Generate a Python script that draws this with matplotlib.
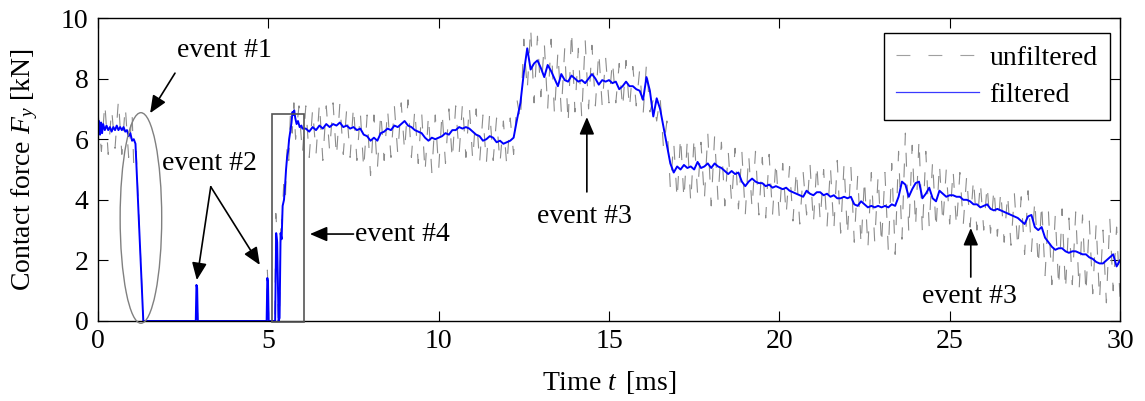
import numpy as np
import matplotlib
matplotlib.use("Agg")
import matplotlib.pyplot as plt
from matplotlib.patches import Ellipse, Rectangle

plt.rcParams['font.family'] = ['Liberation Serif', 'DejaVu Serif']
plt.rcParams['mathtext.fontset'] = 'custom'
plt.rcParams['mathtext.rm'] = 'Liberation Serif'
plt.rcParams['mathtext.it'] = 'Liberation Serif:italic'
plt.rcParams['lines.scale_dashes'] = False

# ---------------- data (time in ms, force in kN) ----------------
early_t_filt = [0.00, 0.03, 0.06, 0.09, 0.12, 0.15, 0.20, 0.25, 0.30, 0.35, 0.40, 0.45, 0.50,
                0.55, 0.60, 0.65, 0.70, 0.75, 0.80, 0.85, 0.90, 0.95, 1.00, 1.05, 1.10, 1.33,
                2.87, 2.89, 2.91, 2.93, 4.95, 4.97, 4.99, 5.01, 5.20, 5.23, 5.26, 5.30, 5.33,
                5.36, 5.39, 5.42, 5.46, 5.49, 5.52, 5.55, 5.58, 5.61, 5.65, 5.68, 5.71, 5.73,
                5.76, 5.79, 5.83, 5.87, 5.92, 5.97, 6.00]
early_f_filt = [6.35, 6.60, 6.15, 6.55, 6.20, 6.50, 6.30, 6.45, 6.30, 6.40, 6.25, 6.40, 6.30,
                6.45, 6.30, 6.40, 6.30, 6.40, 6.25, 6.30, 6.10, 6.20, 5.95, 6.00, 5.85, 0.00,
                0.00, 1.19, 1.10, 0.00, 0.00, 1.42, 1.30, 0.00, 0.00, 2.90, 2.60, 0.00, 0.10,
                2.90, 2.70, 3.80, 4.00, 4.45, 5.00, 5.40, 5.60, 6.00, 6.30, 6.55, 6.90, 6.80,
                6.95, 6.70, 6.50, 6.60, 6.40, 6.45, 6.35]

early_t_unf = [0.0, 0.1, 0.2, 0.3, 0.4, 0.5, 0.6, 0.7, 0.8, 0.9, 1.0, 1.05, 1.12, 1.33,
               2.87, 2.89, 2.91, 2.93, 4.95, 4.97, 4.99, 5.01, 5.19, 5.22, 5.25, 5.29,
               5.33, 5.37, 5.40, 5.45, 5.50, 5.55, 5.60, 5.65, 5.70, 5.75, 5.80, 5.90, 6.00]
early_f_unf = [6.9, 5.6, 7.2, 5.5, 7.0, 5.7, 7.3, 5.5, 7.1, 5.4, 6.9, 5.1, 5.6, 0.0,
               0.0, 1.2, 1.0, 0.0, 0.0, 1.68, 1.2, 0.0, 0.0, 3.55, 3.0, 0.0,
               0.2, 3.5, 3.2, 4.5, 4.0, 5.8, 5.3, 6.9, 6.2, 7.2, 6.0, 7.1, 5.5]

# sampled part: 6.1 ms ... 30.0 ms every 0.1 ms
grid_t = np.round(np.arange(61, 301) / 10.0, 1)

filt_grid = [
    6.35, 6.25, 6.40, 6.30, 6.45, 6.35, 6.50, 6.40, 6.50, 6.45,
    6.55, 6.40, 6.45, 6.35, 6.40, 6.30, 6.35, 6.15, 6.10, 5.95,
    6.05, 5.95, 6.20, 6.25, 6.35, 6.30, 6.45, 6.40, 6.50, 6.60,
    6.45, 6.40, 6.30, 6.25, 6.20, 6.05, 5.95, 6.05, 6.00, 6.05,
    6.10, 6.20, 6.15, 6.30, 6.30, 6.40, 6.35, 6.40, 6.35, 6.25,
    6.15, 6.10, 5.95, 6.00, 6.10, 6.05, 5.90, 5.95, 5.85, 5.90,
    5.95, 6.05, 6.65, 7.20, 8.20, 9.00, 8.30, 8.50, 8.60, 8.35,
    8.05, 8.45, 8.25, 8.00, 7.75, 8.15, 7.95, 7.90, 8.10, 8.00,
    7.90, 7.95, 7.85, 8.00, 8.15, 8.00, 7.80, 7.95, 7.90, 7.95,
    7.85, 7.90, 7.65, 7.75, 7.90, 7.75, 7.75, 7.65, 7.60, 7.30,
    8.05, 7.60, 6.75, 7.35, 7.00, 6.40, 5.80, 5.20, 4.90, 5.10,
    5.00, 5.15, 5.05, 5.10, 5.00, 5.25, 5.05, 5.10, 5.20, 5.05,
    5.20, 5.10, 5.05, 4.95, 4.85, 4.95, 4.85, 4.90, 4.60, 4.45,
    4.60, 4.70, 4.60, 4.55, 4.55, 4.45, 4.50, 4.40, 4.45, 4.40,
    4.35, 4.40, 4.30, 4.25, 4.20, 4.15, 4.10, 4.30, 4.20, 4.15,
    4.25, 4.25, 4.15, 4.20, 4.10, 4.15, 4.05, 4.05, 4.10, 4.05,
    4.10, 3.85, 3.80, 3.95, 3.85, 3.75, 3.80, 3.75, 3.80, 3.75,
    3.80, 3.75, 3.85, 3.80, 4.10, 4.60, 4.50, 4.10, 4.35, 4.55,
    4.60, 4.05, 4.20, 4.40, 4.05, 3.95, 4.30, 4.20, 4.10, 4.15,
    4.15, 4.10, 4.10, 4.00, 4.00, 3.95, 3.85, 3.85, 3.75, 3.80,
    3.85, 3.70, 3.65, 3.70, 3.65, 3.60, 3.55, 3.50, 3.45, 3.40,
    3.30, 3.20, 3.45, 3.50, 3.10, 3.00, 3.10, 2.75, 2.60, 2.45,
    2.35, 2.40, 2.40, 2.30, 2.25, 2.30, 2.30, 2.25, 2.20, 2.20,
    2.10, 2.05, 1.95, 1.90, 1.90, 2.00, 2.10, 2.20, 1.80, 2.00,
]

unf_grid = [
    7.1, 5.4, 7.0, 5.5, 7.2, 5.3, 7.1, 5.6, 7.2, 5.4,
    7.2, 5.5, 7.0, 5.4, 7.1, 5.3, 6.9, 5.0, 6.8, 4.8,
    6.8, 5.0, 6.9, 5.3, 7.0, 5.4, 7.1, 5.5, 7.2, 5.6,
    7.3, 5.4, 7.0, 5.2, 6.9, 4.9, 6.8, 4.9, 6.8, 5.0,
    6.9, 5.2, 7.0, 5.3, 7.1, 5.5, 7.2, 5.4, 7.1, 5.3,
    7.0, 5.2, 6.8, 5.2, 6.9, 5.3, 6.7, 5.2, 6.6, 5.1,
    6.7, 5.5, 7.3, 6.6, 9.3, 7.6, 9.7, 7.2, 9.4, 7.4,
    9.2, 7.0, 9.3, 6.8, 8.9, 6.9, 9.0, 6.5, 9.6, 6.9,
    9.0, 6.7, 9.3, 7.0, 9.1, 7.1, 8.9, 7.1, 8.7, 7.2,
    8.6, 7.2, 8.5, 7.0, 8.6, 7.0, 8.4, 7.1, 8.3, 6.8,
    8.5, 6.9, 7.3, 6.6, 7.4, 5.7, 6.6, 4.4, 5.9, 4.0,
    6.1, 4.0, 6.0, 3.9, 6.1, 4.2, 5.9, 4.0, 6.2, 3.8,
    6.1, 4.0, 5.9, 3.8, 5.6, 3.9, 5.7, 3.7, 5.6, 3.5,
    5.5, 3.7, 5.6, 3.5, 5.4, 3.4, 5.5, 3.5, 5.3, 3.4,
    5.2, 3.5, 5.1, 3.3, 5.0, 3.2, 4.9, 3.5, 5.2, 3.2,
    5.2, 3.3, 5.0, 3.1, 5.1, 3.0, 5.3, 2.9, 5.2, 2.8,
    5.1, 2.6, 4.8, 2.5, 4.7, 2.4, 4.9, 2.6, 4.8, 2.5,
    4.9, 2.3, 5.2, 2.2, 5.6, 2.7, 6.2, 2.9, 5.8, 3.1,
    6.0, 2.9, 5.6, 3.1, 5.3, 3.0, 5.2, 3.2, 5.0, 3.2,
    5.0, 3.1, 4.9, 3.2, 4.8, 3.1, 4.7, 3.0, 4.6, 3.0,
    4.5, 2.9, 4.4, 2.8, 4.3, 2.6, 4.2, 2.5, 4.2, 2.4,
    4.1, 2.2, 4.3, 2.3, 4.0, 1.8, 3.9, 1.5, 3.6, 1.2,
    3.5, 1.1, 3.7, 1.0, 3.4, 1.2, 3.6, 1.0, 3.5, 0.9,
    3.3, 0.9, 3.2, 0.7, 3.0, 0.6, 3.4, 1.0, 3.1, 0.8,
]

x_ticks = [0, 5, 10, 15, 20, 25, 30]
y_ticks = [0, 2, 4, 6, 8, 10]
series_labels = ['unfiltered', 'filtered']

t_filt = np.concatenate([early_t_filt, grid_t])
f_filt = np.concatenate([early_f_filt, filt_grid])
t_unf = np.concatenate([early_t_unf, grid_t])
f_unf = np.concatenate([early_f_unf, unf_grid])

# ---------------- figure ----------------
W, H = 1145, 401
fig = plt.figure(figsize=(W / 100, H / 100), dpi=100)
L, R, T, B = 98, 1120, 18, 321
ax = fig.add_axes([L / W, 1 - B / H, (R - L) / W, (B - T) / H])

FS = 20
l_unf, = ax.plot(t_unf, f_unf, color='#8c8c8c', lw=0.8, label=series_labels[0])
l_unf.set_dashes([10, 13])
l_filt, = ax.plot(t_filt, f_filt, color='#0000ff', lw=1.4, label=series_labels[1])

ax.set_xlim(0, 30)
ax.set_ylim(0, 10)
ax.set_xticks(x_ticks)
ax.set_yticks(y_ticks)
ax.tick_params(direction='in', top=True, right=True, length=7, width=0.8,
               labelsize=FS)
ax.tick_params(axis='x', pad=6)
ax.tick_params(axis='y', pad=7)
for s in ax.spines.values():
    s.set_linewidth(1.0)

fig.text(25 / W, 1 - 170 / H, 'Contact force $F_y$ [kN]', rotation=90,
         ha='center', va='center', fontsize=FS)
fig.text(609 / W, 1 - 382 / H, 'Time $t\\,$ [ms]', ha='center', va='center', fontsize=FS)

# legend (handle lines drawn with thinner width than data lines)
from matplotlib.lines import Line2D
h_unf = Line2D([], [], color='#a0a0a0', lw=0.8)
h_unf.set_dashes([10, 13])
h_filt = Line2D([], [], color='#3a3aff', lw=0.9)
leg = ax.legend(handles=[h_unf, h_filt], labels=series_labels, loc='upper right',
                bbox_to_anchor=((1110 - L) / (R - L), (B - 33) / (B - T)),
                borderaxespad=0, fancybox=False, edgecolor='black', framealpha=1,
                fontsize=FS, handlelength=3.0, handletextpad=0.36, borderpad=0.45,
                labelspacing=0.4)
leg.get_frame().set_linewidth(1.0)

# ---------------- annotations ----------------
ax.add_patch(Ellipse((1.26, 3.40), 1.22, 6.95, fill=False, edgecolor='#808080',
                     lw=1.0, clip_on=False, zorder=5))
ax.add_patch(Rectangle((5.12, -0.04), 0.93, 6.86, fill=False, edgecolor='#555555',
                       lw=1.2, clip_on=False, zorder=5))

arrow_kw = dict(arrowstyle='-|>,head_length=0.7,head_width=0.3', color='black',
                lw=1.2, shrinkA=0, shrinkB=0, mutation_scale=15)

def arrow(tail, tip):
    ax.annotate('', xy=tip, xytext=tail, arrowprops=arrow_kw, annotation_clip=False)

ax.text(2.33, 8.70, 'event #1', fontsize=FS, ha='left', va='baseline')
arrow((2.26, 8.18), (1.53, 6.86))

ax.text(1.87, 5.00, 'event #2', fontsize=FS, ha='left', va='baseline')
arrow((3.31, 4.43), (2.90, 1.35))
arrow((3.31, 4.43), (4.75, 1.85))

ax.text(7.54, 2.65, 'event #4', fontsize=FS, ha='left', va='baseline')
arrow((7.50, 2.87), (6.22, 2.87))

ax.text(12.89, 3.22, 'event #3', fontsize=FS, ha='left', va='baseline')
arrow((14.35, 4.26), (14.35, 6.73))

ax.text(24.18, 0.58, 'event #3', fontsize=FS, ha='left', va='baseline')
arrow((25.62, 1.45), (25.62, 3.07))

fig.savefig('out.png', dpi=100)
